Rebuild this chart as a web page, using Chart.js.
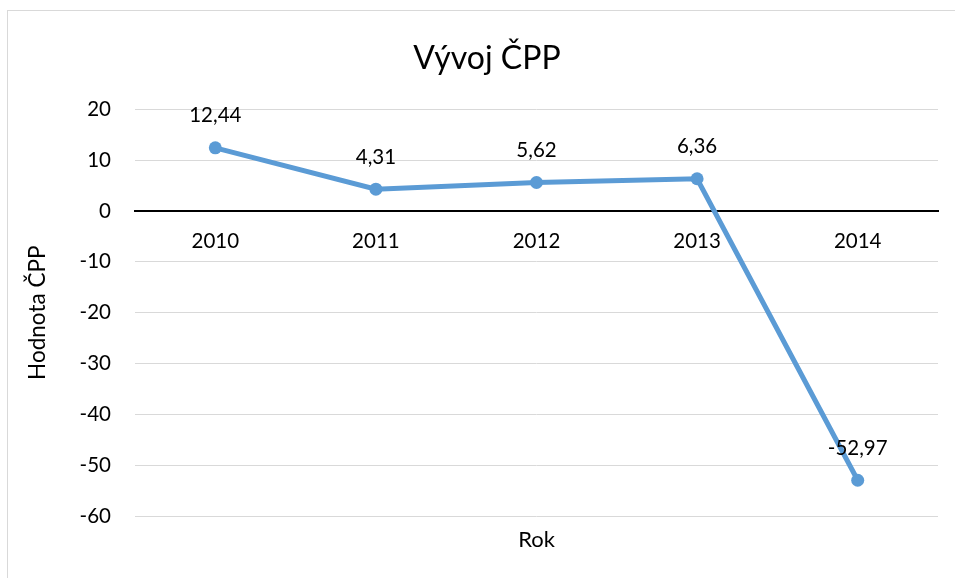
<!DOCTYPE html>
<html>
<head>
<meta charset="utf-8">
<script src="https://cdn.jsdelivr.net/npm/chart.js@4"></script>
<style>
  html, body { margin: 0; padding: 0; background: #fff; overflow: hidden; }
  #ramecek { position: absolute; left: 7px; top: 10px; width: 2000px; height: 2000px; border: 1px solid #d9d9d9; }
  #graf { position: absolute; left: 0; top: 0; }
</style>
</head>
<body>
<div id="ramecek"></div>
<canvas id="graf" width="955" height="578"></canvas>
<script>
// data z grafu
var roky = ['2010', '2011', '2012', '2013', '2014'];
var hodnoty = [12.44, 4.31, 5.62, 6.36, -52.97];
var osaMin = -60;
var osaMax = 20;
var osaKrok = 10;

var pismo = 'Lato, "Open Sans", sans-serif';
var modra = '#5b9bd5';

// popisky hodnot nad body
var popiskyHodnot = {
    id: 'popiskyHodnot',
    afterDatasetsDraw: function (chart) {
        var ctx = chart.ctx;
        var meta = chart.getDatasetMeta(0);
        ctx.save();
        ctx.font = '20.5px ' + pismo;
        ctx.fillStyle = '#000';
        ctx.textAlign = 'center';
        ctx.textBaseline = 'middle';
        meta.data.forEach(function (bod, i) {
            var text = hodnoty[i].toFixed(2).replace('.', ',');
            ctx.fillText(text, bod.x, bod.y - 32);
        });
        ctx.restore();
    }
};

var ctx = document.getElementById('graf').getContext('2d');
var graf = new Chart(ctx, {
    type: 'line',
    data: {
        labels: roky,
        datasets: [{
            label: 'ČPP',
            data: hodnoty,
            borderColor: modra,
            backgroundColor: modra,
            borderWidth: 5,
            pointRadius: 6.5,
            pointBorderWidth: 0,
            pointBackgroundColor: modra,
            tension: 0,
            xAxisID: 'x'
        }]
    },
    options: {
        responsive: false,
        animation: false,
        // vlevo 36, aby nadpis byl na stredu jako v Excelu
        layout: { padding: { left: 36, right: 17, top: 0, bottom: 0 } },
        plugins: {
            legend: { display: false },
            tooltip: { enabled: false },
            title: {
                display: true,
                text: 'Vývoj ČPP',
                color: '#000',
                font: { family: pismo, size: 32, weight: 'normal' },
                padding: { top: 39, bottom: 32 }
            }
        },
        scales: {
            x: {
                type: 'category',
                position: { y: 0 },
                offset: true,
                grid: { display: false, drawTicks: false },
                border: { display: true, color: '#000', width: 2 },
                ticks: {
                    color: '#000',
                    padding: 18,
                    font: { family: pismo, size: 20.5 }
                }
            },
            xRok: {
                type: 'category',
                labels: roky,
                position: 'bottom',
                offset: true,
                grid: { display: false, drawTicks: false },
                border: { display: false },
                ticks: { display: false },
                title: {
                    display: true,
                    text: 'Rok',
                    color: '#000',
                    font: { family: pismo, size: 22 },
                    padding: { top: 25, bottom: 25 }
                },
                afterFit: function (scale) { scale.height = 62; }
            },
            y: {
                min: osaMin,
                max: osaMax,
                grid: {
                    drawTicks: false,
                    lineWidth: function (c) { return c.tick && c.tick.value === 0 ? 2 : 1; },
                    color: function (c) { return c.tick && c.tick.value === 0 ? '#000' : '#d9d9d9'; }
                },
                border: { display: false },
                ticks: {
                    stepSize: osaKrok,
                    color: '#000',
                    padding: 24,
                    font: { family: pismo, size: 20.5 }
                },
                title: {
                    display: true,
                    text: 'Hodnota ČPP',
                    color: '#000',
                    font: { family: pismo, size: 22.5 },
                    padding: { top: -12, bottom: -12 }
                },
                afterFit: function (scale) { scale.width = 99; }
            }
        }
    },
    plugins: [popiskyHodnot]
});
</script>
</body>
</html>
